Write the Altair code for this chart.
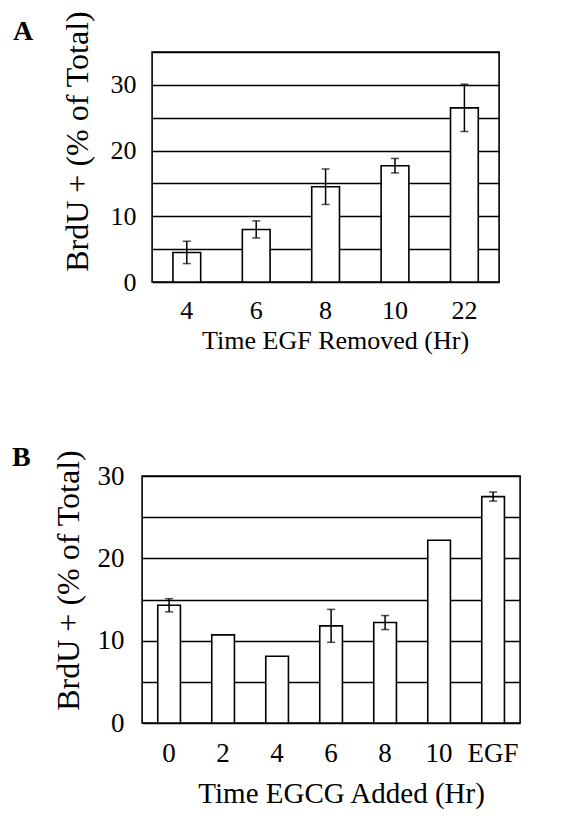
import altair as alt
import pandas as pd

FONT = "Liberation Serif"

# Panel A data
a_times = ["4", "6", "8", "10", "22"]
a_values = [4.5, 8.0, 14.5, 17.7, 26.5]
a_errors = [1.7, 1.3, 2.7, 1.1, 3.6]

# Panel B data
b_times = ["0", "2", "4", "6", "8", "10", "EGF"]
b_values = [14.3, 10.7, 8.1, 11.8, 12.2, 22.2, 27.5]
b_errors = [0.8, None, None, 2.0, 0.85, None, 0.55]

y_ticks_a = [0, 5, 10, 15, 20, 25, 30, 35]
y_ticks_b = [0, 5, 10, 15, 20, 25, 30]


def panel(letter, times, values, errors, ymax, yticks, width, height,
          xtitle, pin, pout, ylab_pad, ytitle_x, ytitle_y,
          xlab_pad, xtitle_x, xtitle_y, letter_x, letter_y,
          lab_fs, xtitle_fs, ytitle_fs, right_extra):
    df = pd.DataFrame({"t": times, "v": values})
    err_rows = [
        {"t": t, "lo": v - e, "hi": v + e}
        for t, v, e in zip(times, values, errors) if e is not None
    ]
    edf = pd.DataFrame(err_rows)
    caps = pd.DataFrame(
        [{"t": r["t"], "c": r["lo"]} for r in err_rows]
        + [{"t": r["t"], "c": r["hi"]} for r in err_rows]
    )

    xscale = alt.Scale(domain=times, paddingInner=pin, paddingOuter=pout)
    yscale = alt.Scale(domain=[0, ymax], nice=False)

    xaxis = alt.Axis(
        title=xtitle, labelAngle=0, ticks=False, domain=False,
        labelFont=FONT, labelFontSize=lab_fs, labelColor="black",
        labelBaseline="alphabetic", labelPadding=xlab_pad,
        titleFont=FONT, titleFontSize=xtitle_fs, titleFontWeight="normal",
        titleColor="black", titleBaseline="alphabetic",
        titleX=xtitle_x, titleY=xtitle_y,
    )
    yaxis = alt.Axis(
        title="BrdU + (% of Total)", values=yticks,
        labelExpr="datum.value % 10 == 0 ? datum.label : ''",
        grid=True, gridColor="black", gridOpacity=1, gridWidth=1.3,
        ticks=False, domain=False,
        labelFont=FONT, labelFontSize=lab_fs, labelColor="black",
        labelPadding=ylab_pad,
        titleFont=FONT, titleFontSize=ytitle_fs, titleFontWeight="normal",
        titleColor="black", titleBaseline="alphabetic",
        titleX=ytitle_x, titleY=ytitle_y,
    )

    bars = alt.Chart(df).mark_bar(
        fill="white", stroke="black", strokeWidth=1.6
    ).encode(
        x=alt.X("t:N", scale=xscale, sort=times, axis=xaxis),
        y=alt.Y("v:Q", scale=yscale, axis=yaxis),
    )

    rules = alt.Chart(edf).mark_rule(color="black", strokeWidth=1.5).encode(
        x=alt.X("t:N", scale=xscale, sort=times, axis=xaxis),
        y=alt.Y("lo:Q", scale=yscale, axis=yaxis),
        y2="hi:Q",
    )
    capm = alt.Chart(caps).mark_tick(
        color="black", size=8, thickness=1.5
    ).encode(
        x=alt.X("t:N", scale=xscale, sort=times, axis=xaxis),
        y=alt.Y("c:Q", scale=yscale, axis=yaxis),
    )
    lab = alt.Chart(pd.DataFrame({"l": [letter]})).mark_text(
        font=FONT, fontSize=28, fontWeight="bold", color="black",
        align="left", baseline="alphabetic",
    ).encode(text="l:N", x=alt.value(letter_x), y=alt.value(letter_y))

    # invisible spacer text that widens the panel's bounds on the right
    spacer = alt.Chart(pd.DataFrame({"l": ["."]})).mark_text(
        font=FONT, fontSize=10, opacity=0, align="right",
    ).encode(text="l:N", x=alt.value(width + right_extra), y=alt.value(10))

    return alt.layer(bars, rules, capm, lab, spacer).properties(
        width=width, height=height
    )


pa = panel("A", a_times, a_values, a_errors, 35, y_ticks_a, 347, 230,
           "Time EGF Removed (Hr)", 0.6, 0.3, 16, -65, 89,
           36, 183, 66, -139, -12, 26, 26, 32, 12)
pb = panel("B", b_times, b_values, b_errors, 30, y_ticks_b, 378, 247,
           "Time EGCG Added (Hr)", 0.58, 0.29, 18, -64, 104,
           38, 199, 79, -130, -10, 27, 29, 32, 1)

chart = alt.vconcat(pa, pb, spacing=89, center=True).properties(
    padding={"left": 3, "top": 1, "right": 5, "bottom": 5},
    background="white",
).configure_view(stroke="black", strokeWidth=1.6)

chart.save("out.html", embed_options={"renderer": "svg", "actions": False})
